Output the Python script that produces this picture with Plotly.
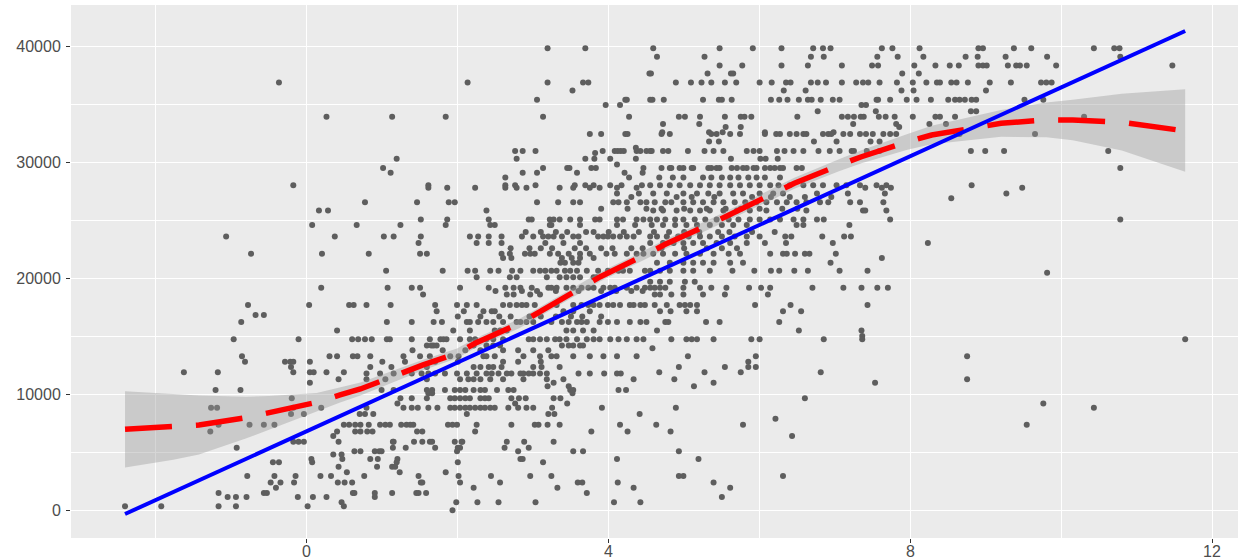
import plotly.graph_objects as go

# ---------------- data ----------------
row_y = [39825, 39100, 38350, 37650, 36875, 36200, 35400, 34950, 34400, 33925,
         33300, 33050, 32600, 32450, 31800, 31260, 30975, 30800, 30300, 29800,
         29500, 29100, 28700, 28025, 27800, 27300, 27000, 26900, 26550, 26000, 25850, 25075,
         24600, 24000, 23600, 23050, 22600, 22125, 21750, 21350, 20650, 20480, 20100, 19700,
         19175, 18900, 18600, 17700, 17150, 16840, 16700, 16225, 15500, 15030, 14750, 14200,
         13960, 13800, 13275, 12800, 12350, 11900, 11800, 11300, 11000, 10700, 10370,
         10100, 9650, 9200, 8850, 8300, 7900, 7375, 6800, 6400, 5900,
         5400, 5100, 4800, 4425, 4150, 3750, 3275, 2950, 2400, 1950,
         1500, 1150, 700, 350, 0]

row_x = [
    [3.19, 3.69, 4.59, 5.47, 5.91, 6.29, 6.71, 6.84, 6.94, 7.62, 7.76, 8.12, 8.90, 8.96, 9.37, 9.60, 10.43, 10.70, 10.77],
    [4.64, 5.27, 6.68, 6.85, 7.56, 7.83, 8.17, 8.73, 8.89, 9.26, 9.81, 10.78],
    [5.47, 5.77, 6.29, 6.64, 7.09, 7.49, 7.57, 8.05, 8.33, 8.52, 8.64, 8.90, 8.96, 9.01, 9.29, 9.40, 9.45, 9.54, 9.93, 11.47],
    [4.54, 4.56, 5.31, 5.62, 5.65, 7.89, 8.11],
    [-0.37, 2.13, 3.19, 3.66, 3.73, 4.89, 5.09, 5.23, 5.36, 5.54, 5.69, 6.00, 6.16, 6.35, 6.41, 6.68, 6.77, 6.88, 7.09, 7.28, 7.37, 7.44, 7.59, 7.82, 8.03, 8.21, 8.35, 8.39, 8.54, 8.61, 8.76, 9.05, 9.33, 9.73, 9.80, 9.87],
    [3.52, 6.32, 6.61, 7.88, 9.00, 8.04],
    [3.05, 4.22, 4.24, 4.55, 4.58, 4.73, 5.25, 5.46, 5.50, 5.63, 6.15, 6.26, 6.37, 6.52, 6.64, 6.69, 6.81, 6.97, 7.06, 7.55, 7.57, 7.73, 7.95, 8.08, 8.27, 8.50, 8.59, 8.65, 8.72, 8.81, 8.87, 9.51, 9.76],
    [3.96, 4.15, 7.35, 7.41],
    [6.77, 7.54, 8.80, 8.87],
    [0.26, 1.13, 1.84, 3.13, 4.27, 4.93, 5.01, 5.21, 5.54, 5.75, 5.80, 5.89, 6.50, 7.09, 7.17, 7.25, 7.34, 7.38, 7.58, 7.67, 7.79, 8.03, 8.33, 8.39, 8.59, 10.30],
    [4.72, 5.20, 7.24, 7.81, 8.25, 8.47],
    [5.55, 5.75, 7.85],
    [4.71, 5.33, 5.51, 6.07, 6.98],
    [3.75, 3.90, 4.22, 4.25, 4.70, 4.81, 5.36, 5.43, 5.61, 5.74, 6.07, 6.22, 6.27, 6.40, 6.49, 6.58, 6.62, 6.84, 6.91, 6.95, 7.11, 7.20, 7.33, 7.41, 7.50, 7.64, 7.73, 7.81, 8.65, 9.65],
    [5.33, 5.46, 6.72, 7.02, 7.47, 7.59],
    [4.36],
    [2.76, 2.86, 3.03, 3.92, 4.08, 4.12, 4.16, 4.20, 4.37, 4.42, 4.50, 4.55, 4.57, 4.72, 4.79, 5.05, 5.27, 5.39, 5.52, 5.83, 5.92, 6.00, 6.23, 6.33, 6.45, 6.58, 6.78, 6.93, 7.06, 7.22, 7.25, 7.42, 7.59, 8.80, 8.99, 9.24, 10.62],
    [3.82],
    [1.19, 2.78, 3.69, 3.81, 4.02, 4.36, 6.01, 6.08, 6.24, 5.62],
    [4.11],
    [1.01, 3.13, 3.45, 3.48, 3.77, 3.83, 4.46, 4.70, 4.81, 4.83, 4.94, 4.99, 5.10, 5.12, 5.32, 5.36, 5.43, 5.47, 5.63, 5.70, 5.78, 5.83, 5.92, 5.96, 6.07, 6.14, 6.20, 6.27, 6.31, 6.49, 6.56, 10.78],
    [1.11, 2.86, 3.05, 3.58, 4.21, 4.45],
    [2.63, 4.27, 4.67, 4.85, 4.99, 5.25, 5.36, 5.50, 5.61, 5.72, 5.85, 5.96, 6.07, 6.27],
    [-0.18, 1.61, 2.63, 2.76, 3.03, 3.55, 3.69, 3.80, 4.02, 4.17, 4.44, 4.55, 4.68, 4.81, 4.94, 5.08, 5.21, 5.34, 5.47, 5.61, 5.74, 5.87, 6.00, 6.14, 6.25, 6.40, 6.58, 6.71, 6.84, 7.02, 7.15, 7.33, 7.55, 7.68, 8.81],
    [1.61, 1.86, 2.23, 2.63, 2.78, 2.91, 3.35, 3.53, 3.75, 3.88, 4.11, 4.37, 7.40, 7.62, 7.74, 9.48],
    [4.59, 4.77, 4.99, 5.17, 5.32, 5.47, 5.65, 5.78, 6.00, 6.18, 6.31, 6.76, 7.17, 7.66, 9.27, 4.11, 4.40],
    [4.30, 4.90, 5.10, 5.40, 5.90, 6.15, 6.40, 6.60, 6.95],
    [8.54],
    [0.77, 1.46, 1.88, 1.96, 3.05, 3.33, 3.53, 3.62, 4.06, 4.13, 4.24, 4.42, 4.50, 4.61, 4.75, 4.83, 4.99, 5.12, 5.25, 5.39, 5.52, 5.67, 5.81, 5.96, 6.09, 6.23, 6.36, 6.49, 6.62, 6.80, 6.91, 7.20, 7.33, 7.64],
    [3.90, 4.25, 4.50, 4.70, 5.00, 5.30, 5.55, 5.75, 6.00, 6.30, 6.50],
    [0.16, 0.28, 2.38, 4.59, 4.72, 4.90, 5.08, 5.21, 5.34, 5.52, 5.70, 5.87, 6.09, 6.62, 7.37, 7.40, 7.68],
    [1.51, 1.86, 2.41, 2.94, 2.98, 3.22, 3.27, 3.35, 3.49, 3.62, 3.82, 3.88, 4.11, 4.19, 4.37, 4.46, 4.55, 4.64, 4.75, 4.88, 4.99, 5.14, 5.28, 5.43, 5.59, 5.72, 5.87, 6.00, 6.14, 6.27, 6.45, 6.58, 6.76, 6.85, 7.73, 10.78],
    [0.07, 0.66, 1.24, 1.84, 2.43, 2.49, 3.22, 3.24, 3.62, 4.11, 4.35, 4.57, 4.72, 4.88, 5.03, 5.17, 5.34, 5.50, 5.65, 5.83, 6.49, 6.58, 7.19],
    [2.90, 3.10, 3.30, 3.45, 3.70, 3.80, 4.00, 4.20, 4.40, 4.60, 4.80, 5.00, 5.20, 5.45, 5.60, 5.90, 6.20],
    [-1.07, 0.37, 1.02, 1.15, 1.51, 2.16, 2.27, 2.41, 2.58, 2.85, 3.00, 3.13, 3.20, 3.27, 3.38, 3.53, 3.60, 3.86, 3.93, 3.99, 4.06, 4.15, 4.24, 4.33, 4.55, 4.64, 4.77, 4.92, 5.06, 5.21, 5.34, 5.50, 5.67, 5.83, 6.00, 6.34, 6.42, 6.83, 7.12, 7.21],
    [1.48, 2.25, 2.41, 2.58, 3.16, 3.40, 3.62, 4.55, 4.72, 4.86, 4.99, 5.12, 5.25, 5.43, 5.61, 5.83, 6.07, 6.35, 6.97, 8.23],
    [2.70, 2.95, 3.10, 3.25, 3.55, 3.70, 3.90, 4.05, 4.30, 4.45, 4.70, 5.00, 5.30, 5.50, 5.70],
    [-0.74, 0.20, 0.82, 1.50, 1.59, 2.58, 2.69, 2.89, 2.96, 3.02, 3.22, 3.33, 3.47, 3.62, 3.75, 3.97, 4.08, 4.24, 4.37, 4.46, 4.59, 4.72, 4.88, 5.03, 5.21, 5.39, 5.59, 5.74, 6.14, 6.31, 6.36, 6.47, 6.60, 6.66, 7.01],
    [2.60, 2.71, 3.38, 3.51, 3.62, 3.80, 7.62],
    [3.36, 3.42, 3.53, 3.60, 4.64, 4.81, 4.99, 5.12, 5.25, 5.39, 5.61, 5.78, 6.94],
    [1.05, 1.80, 2.13, 2.23, 2.43, 2.54, 2.72, 2.83, 3.00, 3.09, 3.16, 3.24, 3.31, 3.42, 3.49, 3.58, 3.71, 3.86, 3.99, 4.13, 4.19, 4.28, 4.48, 4.55, 4.68, 4.81, 4.99, 5.12, 5.34, 5.64, 5.93, 6.15, 6.26, 6.46, 6.64, 7.06, 7.43],
    [9.81],
    [2.25, 2.69, 2.78, 3.18, 3.35, 3.44, 3.53, 3.62, 3.80, 3.84],
    [4.55, 4.68, 4.81, 5.01, 5.14],
    [0.19, 1.07, 1.39, 1.50, 2.03, 2.41, 2.63, 2.74, 2.83, 2.98, 3.20, 3.24, 3.31, 3.44, 3.53, 3.64, 3.73, 3.80, 3.93, 4.02, 4.08, 4.24, 4.37, 4.48, 4.55, 4.61, 4.68, 4.75, 4.99, 5.21, 5.36, 5.56, 5.86, 6.02, 6.14, 6.70, 7.11, 7.35, 7.56, 7.70],
    [2.50, 2.85, 3.05, 3.30, 3.60, 3.90, 4.10, 4.30, 4.45],
    [1.54, 2.65, 2.74, 2.96, 3.09, 4.61, 4.68, 4.83, 4.99, 5.25, 5.54, 6.11],
    [-0.78, 0.03, 0.56, 0.62, 0.79, 1.11, 1.70, 1.99, 2.12, 2.25, 2.60, 2.69, 2.78, 2.85, 2.91, 3.02, 3.31, 3.53, 3.64, 3.73, 3.80, 3.88, 3.99, 4.06, 4.15, 4.28, 4.33, 4.42, 4.48, 4.61, 4.77, 4.94, 5.01, 5.08, 5.17, 5.94, 6.41, 7.43],
    [1.72, 2.08, 2.34, 2.45, 2.49, 3.40, 3.53, 3.75, 4.68, 4.82, 5.03, 5.17, 6.31, 6.55],
    [-0.68, -0.57],
    [2.00, 2.30, 2.55, 2.70, 2.95, 3.10, 3.30, 3.50, 3.65, 3.90],
    [-0.87, 1.06, 1.39, 1.68, 1.79, 2.12, 2.16, 2.27, 2.38, 2.47, 2.60, 2.78, 2.83, 2.91, 3.00, 3.24, 3.38, 3.47, 3.58, 3.64, 3.71, 3.88, 3.99, 4.11, 4.28, 4.42, 4.50, 4.75, 4.79, 5.29, 5.47, 6.26],
    [0.40, 1.94, 2.16, 2.49, 2.56, 2.65, 3.44, 3.53, 3.66, 3.80, 4.64, 6.52, 7.35],
    [7.36],
    [-0.97, -0.11, 0.60, 0.68, 0.77, 0.86, 1.06, 1.10, 1.39, 1.63, 1.77, 1.81, 1.85, 2.03, 2.16, 2.23, 2.38, 2.47, 2.60, 2.94, 3.00, 3.09, 3.18, 3.29, 3.35, 3.44, 3.58, 3.71, 3.80, 3.88, 4.02, 4.13, 4.24, 4.37, 4.46, 4.83, 5.03, 5.10, 5.17, 5.39, 5.89, 6.00, 6.85, 7.36, 11.64],
    [1.59, 1.65, 1.68, 1.72, 2.21, 2.38, 2.47, 2.56, 3.38, 3.47, 3.53, 3.62, 3.66],
    [4.58],
    [1.40, 1.80, 2.10, 2.30, 2.60, 2.80, 3.00, 3.20],
    [-0.86, 0.30, 0.40, 0.61, 0.67, 0.84, 1.28, 1.50, 1.63, 1.90, 2.01, 2.34, 2.38, 2.49, 2.87, 3.09, 3.24, 3.31, 3.53, 3.75, 3.93, 4.11, 4.37, 5.05, 5.95, 8.75],
    [-0.82, -0.29, -0.22, 0.04, -0.18, 5.85, 1.00, 1.30, 1.70, 2.00, 2.60, 2.80, 3.10],
    [-0.21, 0.84, 1.12, 1.59, 2.21, 2.30, 2.41, 2.47, 2.58, 3.00, 3.11, 3.35, 5.54, 5.85, 5.95, 4.93],
    [-1.63, -1.18, -0.18, 0.04, 0.09, 0.26, 0.49, 4.67, 5.27, 5.75, 6.81],
    [0.79, 0.97, 1.15, 1.39, 1.52, 1.61, 1.70, 1.83, 1.99, 2.12, 2.25, 2.38, 2.45, 2.54, 2.65, 2.71, 2.83, 2.87, 2.94, 3.00, 3.09, 3.18, 3.60, 3.75, 3.94, 4.11, 4.16],
    [0.42, 0.79, 1.04, 1.59, 2.03, 2.14, 2.21, 2.30, 2.43, 2.60, 2.87, 3.18, 3.40, 4.33, 4.87, 8.75],
    [0.04, 3.27, 5.39, 7.53],
    [3.19, 3.47, 5.13],
    [-1.21, -0.88, 0.99, 1.15, 1.59, 1.66, 1.83, 1.96, 2.03, 2.10, 2.21, 2.30, 2.36, 2.52, 2.67, 2.74, 3.49, 3.53, 4.13, 4.23],
    [3.52, 1.61, 1.66],
    [1.24, 1.39, 1.59, 1.90, 1.96, 2.03, 2.10, 2.16, 2.30, 2.36, 2.71, 2.90, 3.27, 3.36, 2.41, 2.81, 6.60, -0.20],
    [2.76, 3.45, 9.76, 1.20],
    [-1.27, -1.19, -0.18, 0.19, 0.79, 1.28, 1.39, 1.47, 1.61, 1.73, 1.90, 1.96, 2.03, 2.10, 2.16, 2.23, 2.30, 2.36, 2.43, 2.49, 2.67, 2.80, 2.91, 3.00, 3.25, 3.91, 4.89, 10.43],
    [-0.21, -0.04, 0.70, 0.77, 0.88, 2.12, 3.20, 3.28, 4.41],
    [6.21],
    [-1.17, -0.76, -0.57, -0.43, 0.49, 0.56, 0.64, 0.71, 0.82, 0.97, 1.04, 1.10, 1.25, 1.32, 1.37, 1.41, 1.87, 1.93, 1.99, 2.25, 2.71, 3.02, 3.07, 3.19, 3.35, 4.15, 4.63, 5.78, 9.54],
    [-1.28, 0.40, 0.64, 0.71, 0.80, 0.87, 1.46, 1.53, 2.23, 3.77, 4.25, 4.82],
    [6.43, 0.35],
    [-0.18, -0.11, -0.04, 0.42, 1.14, 1.15, 1.42, 1.53, 1.63, 1.66, 1.96, 2.05, 2.06, 3.27, 2.65, 2.88],
    [-0.93, 1.70, 1.14, 1.31, 2.62, 2.94, 2.03, 2.00],
    [0.71, 0.90, 0.96, 0.99, 0.63, 1.99, 2.80, 3.53, 3.66, 4.93],
    [0.35, 0.46],
    [0.06, 0.47, 0.84, 0.94, 1.20, 2.83, 2.86, 4.11, 5.19],
    [-0.45, -0.37, 0.07, 1.19, 2.00, 3.13],
    [0.42, 0.93, 1.13, 1.17],
    [0.53, 1.23, 1.84],
    [-0.79, -0.43, -0.15, 0.18, 0.32, 0.76, 1.48, 2.01, 2.44, 2.96, 3.24, 4.93, 4.99, 6.31],
    [-0.48, -0.35, -0.17, 0.41, 0.50, 1.51, 1.53, 2.03, 2.56, 3.59, 3.65, 4.12, 5.39, 0.60],
    [-0.41, 2.21, 3.32, 5.61, 4.33],
    [-1.17, -0.57, -0.53, 0.61, 0.63, 0.90, 1.13, 1.45, 1.48, 1.58, 3.71],
    [-1.05, -0.94, -0.80, -0.12, 0.08, 0.26, 0.90, 5.50],
    [0.46, 1.98, 2.26, 2.54, 3.03, 4.07, 4.42],
    [-2.41, -1.93, -1.17, -0.94, 0.01, 0.49],
    [1.93],
]

# loess curve with its confidence band
loess_x = [-2.41, -1.77, -1.43, -0.81, -0.5, 0.13, 0.44, 0.71, 1.54, 1.99, 2.23, 2.82, 3.09,
           3.62, 3.89, 4.48, 4.75, 5.34, 5.61, 6.20, 6.46, 7.06, 7.35, 7.97, 8.28, 9.2, 9.8,
           10.15, 10.8, 11.64]
loess_y = [6980, 7210, 7350, 7980, 8410, 9310, 9940, 10460, 12530, 13530, 14400, 16120, 17120,
           19140, 20140, 22010, 22930, 24660, 25520, 27330, 28190, 29770, 30480, 31780, 32350,
           33360, 33650, 33640, 33460, 32700]
loess_hi = [10270, 10060, 9900, 9780, 9860, 10110, 10590, 11020, 12980, 13950, 14800, 16520, 17520,
            19540, 20540, 22410, 23340, 25080, 25950, 27780, 28660, 30290, 31040, 32460, 33150,
            34510, 35150, 35390, 35910, 36300]
loess_lo = [3690, 4360, 4800, 6180, 6960, 8510, 9290, 9900, 12080, 13110, 14000, 15720, 16720,
            18740, 19740, 21610, 22520, 24240, 25090, 26880, 27720, 29250, 29920, 31100, 31550,
            32210, 32150, 31890, 31010, 29180]

# linear fit end points
fit_x = [-2.41, 11.64]
fit_y = [-320, 41320]

x_ticks = [0, 4, 8, 12]
x_minor = [-2, 2, 6, 10]
y_ticks = [0, 10000, 20000, 30000, 40000]
y_minor = [5000, 15000, 25000, 35000]

# ---------------- build the figure ----------------
pt_x, pt_y = [], []
for yv, xs in zip(row_y, row_x):
    pt_x.extend(xs)
    pt_y.extend([yv] * len(xs))

FONT = "Liberation Sans, Arial, sans-serif"
TXT = "#4D4D4D"

fig = go.Figure()
fig.add_trace(go.Scatter(x=pt_x, y=pt_y, mode="markers",
                         marker=dict(size=6, color="#5E5E5E", line=dict(width=0)),
                         hoverinfo="skip"))
fig.add_trace(go.Scatter(x=loess_x + loess_x[::-1], y=loess_hi + loess_lo[::-1],
                         mode="lines", fill="toself", fillcolor="rgba(153,153,153,0.4)",
                         line=dict(width=0), hoverinfo="skip"))
fig.add_trace(go.Scatter(x=loess_x, y=loess_y, mode="lines",
                         line=dict(color="red", width=5.5, dash="47px,24px"),
                         hoverinfo="skip"))
fig.add_trace(go.Scatter(x=fit_x, y=fit_y, mode="lines",
                         line=dict(color="blue", width=4), hoverinfo="skip"))

axis_common = dict(showline=False, zeroline=False, ticks="outside", ticklen=4,
                   tickwidth=1, tickcolor="#333333", showgrid=True, gridcolor="white",
                   gridwidth=1.3, automargin=False)

fig.update_xaxes(range=[-3.126, 12.34], tickvals=x_ticks, showticklabels=False,
                 minor=dict(tickvals=x_minor, showgrid=True, gridcolor="white", gridwidth=0.8, ticks=""),
                 **axis_common)
fig.update_yaxes(range=[-2388, 43560], tickvals=y_ticks, ticktext=[str(v) for v in y_ticks],
                 ticklabelstandoff=2,
                 tickfont=dict(family=FONT, size=16, color=TXT),
                 minor=dict(tickvals=y_minor, showgrid=True, gridcolor="white", gridwidth=0.8, ticks=""),
                 **axis_common)

# x tick labels placed explicitly so they sit close under the panel
for v in x_ticks:
    fig.add_annotation(x=v, xref="x", y=0, yref="paper", text=str(v), showarrow=False,
                       yanchor="top", xanchor="center", yshift=-4, borderpad=0,
                       font=dict(family=FONT, size=16, color=TXT))

fig.update_layout(width=1238, height=560,
                  margin=dict(l=71, r=0, t=5, b=22, pad=0, autoexpand=False),
                  plot_bgcolor="#EBEBEB", paper_bgcolor="white", showlegend=False,
                  font=dict(family=FONT, size=16, color=TXT))

fig.write_html("out.html", config={"displayModeBar": False},
               post_script="document.body.style.margin='0';document.body.style.overflow='hidden';")
